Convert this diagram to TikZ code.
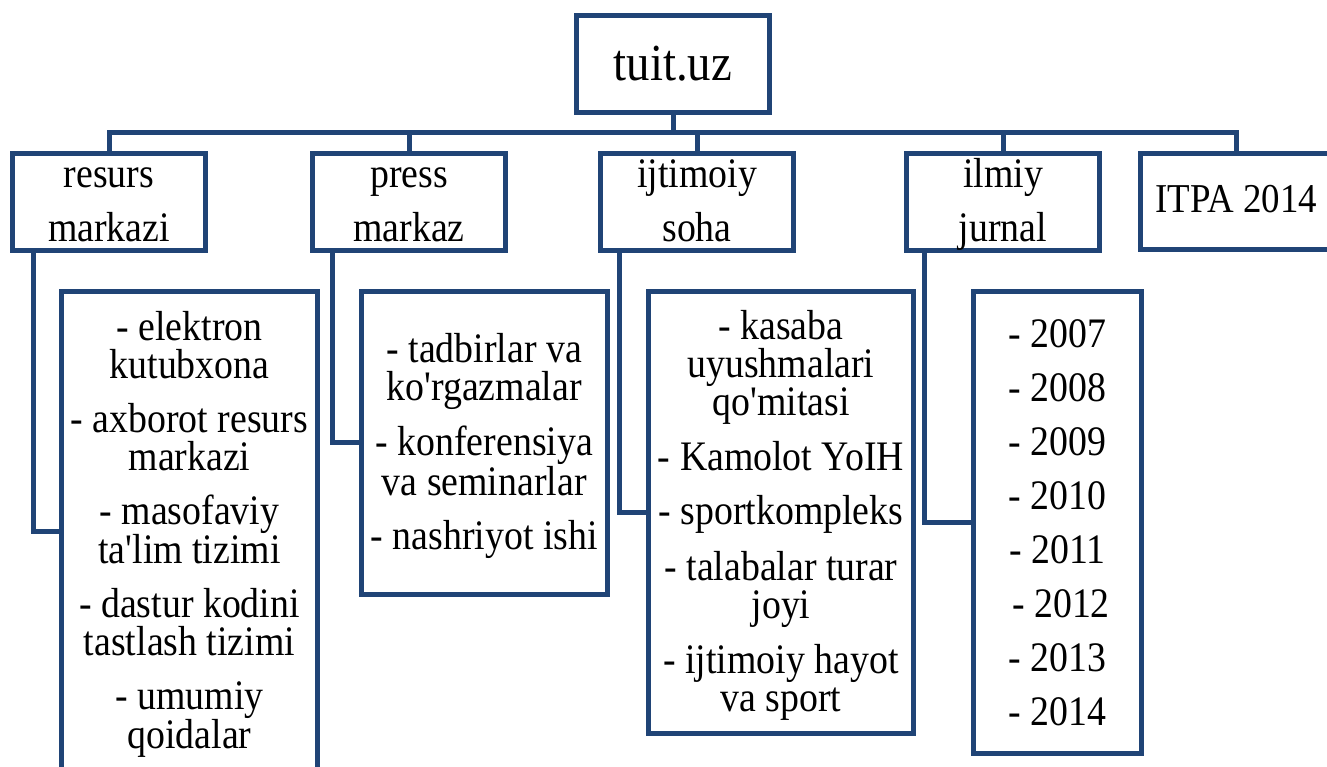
\documentclass[tikz,border=0pt]{standalone}
\usepackage{fontspec}
\setmainfont{Liberation Serif}[FakeStretch=0.9,Ligatures=TeXOff]
\definecolor{navy}{RGB}{32,68,118}
\newcommand\hstrut{\rule[-9pt]{0pt}{43pt}}
\newcommand\dstrut{\rule{0pt}{35pt}}
\begin{document}
\begin{tikzpicture}[x=1pt,y=-1pt,
  box/.style={draw=navy,line width=5pt,rectangle,inner sep=0pt,align=center},
  conn/.style={draw=navy,line width=5pt},
  hbox/.style={box,minimum width=193,minimum height=96,font=\fontsize{42}{54}\selectfont},
  dbox/.style={box,font=\fontsize{42}{38}\selectfont},
]
\useasboundingbox (0,0) rectangle (1327,767);

\node[box,minimum width=193,minimum height=97,font=\fontsize{52}{60}\selectfont] (tuit) at (673,64) {tuit.uz};

\node[hbox] (res) at (109,202) {\hstrut resurs\\\hstrut markazi};
\node[hbox] (press) at (409,202) {\hstrut press\\\hstrut markaz};
\node[hbox] (ijt) at (697,202) {\hstrut ijtimoiy\\\hstrut soha};
\node[hbox] (ilm) at (1003,202) {\hstrut ilmiy\\\hstrut jurnal};
\node[hbox,font=\fontsize{41}{54}\selectfont] (itpa) at (1236.5,202) {ITPA 2014\rule[-6pt]{0pt}{6pt}};

\node[dbox,minimum width=256,minimum height=479.5] (d1) at (189.5,531.25)
  {\dstrut- elektron\\kutubxona\\[16pt]- axborot resurs\\markazi\\[16pt]- masofaviy\\ta'lim tizimi\\[16pt]- dastur kodini\\tastlash tizimi\\[16pt]- umumiy\\qoidalar};
\node[dbox,minimum width=246.5,minimum height=302.5] (d2) at (484.25,442.75)
  {\dstrut- tadbirlar va\\ko'rgazmalar\\[16pt]- konferensiya\\va seminarlar\\[16pt]- nashriyot ishi};
\node[dbox,minimum width=265,minimum height=442] (d3) at (781,512.5)
  {\dstrut- kasaba\\uyushmalari\\qo'mitasi\\[16pt]- Kamolot YoIH\\[16pt]- sportkompleks\\[16pt]- talabalar turar\\joyi\\[16pt]- ijtimoiy hayot\\va sport};
\node[box,minimum width=168,minimum height=462,font=\fontsize{42}{54}\selectfont] (d4) at (1057.5,522.5)
  {- 2007\\- 2008\\- 2009\\- 2010\\- 2011\\\hspace*{7pt}- 2012\\- 2013\\- 2014};

\coordinate (bus) at (0,133);
\draw[conn] (res.north) |- (bus -| itpa.north) -- (itpa.north);
\draw[conn] (tuit.south) -- (tuit.south |- bus);
\draw[conn] (press.north) -- (press.north |- bus);
\draw[conn] (ijt.north) -- (ijt.north |- bus);
\draw[conn] (ilm.north) -- (ilm.north |- bus);

\draw[conn] ([xshift=23.5pt]res.south west) |- (d1.west);
\draw[conn] ([xshift=22pt]press.south west) |- (d2.west);
\draw[conn] ([xshift=21.5pt]ijt.south west) |- (d3.west);
\draw[conn] ([xshift=20.5pt]ilm.south west) |- (d4.west);
\end{tikzpicture}
\end{document}
